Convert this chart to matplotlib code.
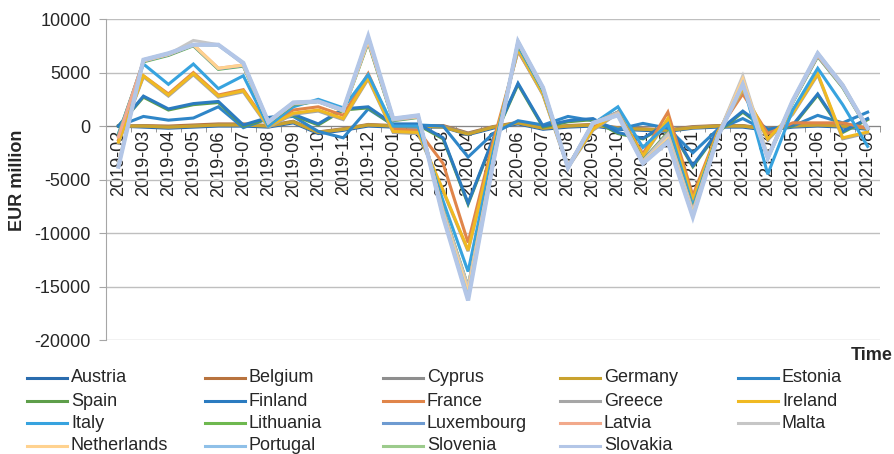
import matplotlib
matplotlib.use("Agg")
import matplotlib.pyplot as plt
from matplotlib.lines import Line2D
from matplotlib.ticker import FixedLocator

plt.rcParams['font.family'] = ['Liberation Sans', 'DejaVu Sans']
plt.rcParams['axes.unicode_minus'] = False

months = ['2019-02', '2019-03', '2019-04', '2019-05', '2019-06', '2019-07', '2019-08',
          '2019-09', '2019-10', '2019-11', '2019-12', '2020-01', '2020-02', '2020-03',
          '2020-04', '2020-05', '2020-06', '2020-07', '2020-08', '2020-09', '2020-10',
          '2020-11', '2020-12', '2021-01', '2021-02', '2021-03', '2021-04', '2021-05',
          '2021-06', '2021-07', '2021-08']

# values (EUR million)
austria = [0, -100, -200, -100, 0, 0, -100, 300, -700, -400, 0, -100, -100, -100, -800, -200,
           200, -300, -100, 0, -300, -400, -500, -200, -100, -100, -400, -100, 0, -100, -300]
belgium = [0, 50, 0, 100, 200, 200, 50, 450, -550, -250, 150, 50, 50, 50, -650, -50,
           350, -150, 50, 150, -150, -250, -350, -50, 50, 50, -250, 50, 150, 50, -150]
cyprus = [0, 0, -100, 0, 100, 100, 0, 400, -600, -300, 100, 0, 0, 0, -700, -100,
          300, -200, 0, 100, -200, -300, -400, -100, 0, 0, -300, 0, 100, 0, -200]
germany = [0, 0, -100, 0, 100, 100, 0, 400, -600, -300, 100, 0, 0, -100, -750, -100,
           300, -200, 0, 100, -200, -300, -400, -150, 0, 0, -300, 0, 100, 0, -200]
estonia = [0, 900, 550, 750, 1800, -150, 700, 900, -500, -1100, 1600, 100, 100, 0, -2900, -700,
           500, 100, 900, 500, -300, 250, -200, -2500, -300, 700, -500, 0, 1000, 300, 1300]
spain = [0, 2700, 1500, 2000, 2200, 0, 700, 1000, 100, 1500, 1700, 100, 100, -1200, -7300, -1300,
         3900, -100, 400, 600, -700, -1200, 200, -3800, -600, 1300, -400, 0, 2900, -600, 600]
finland = [0, 2800, 1600, 2100, 2300, 100, 800, 1100, 200, 1600, 1800, 200, 200, -1100, -7200, -1200,
           4000, 0, 500, 700, -600, -1150, 300, -3700, -500, 1400, -300, 100, 3000, -500, 700]
france = [-1300, 4700, 3000, 5000, 2900, 3400, 100, 1500, 1800, 1000, 4900, -300, -400, -3500, -10900, -1500,
          7000, 3000, -3700, -100, 1300, -2600, 1300, -6500, -500, 3000, -700, 300, 300, 300, -200]
greece = [-1600, 4600, 2800, 4800, 2700, 3200, -100, 1100, 1400, 600, 4400, -600, -700, -6100, -11700, -2100,
          7100, 2900, -3900, -400, 1200, -2900, 600, -7000, -700, 3400, -1300, 1100, 4800, -1200, -650]
ireland = [-1500, 4700, 2900, 4900, 2800, 3300, 0, 1200, 1500, 700, 4500, -500, -600, -6000, -11600, -2000,
           7200, 3000, -3800, -300, 1300, -2800, 700, -6900, -600, 3500, -1200, 1200, 4900, -1100, -550]
italy = [-700, 5800, 3900, 5800, 3500, 4700, 0, 1800, 2500, 1700, 4800, 0, 0, -7000, -13600, -2500,
         7500, 3300, -3800, 200, 1800, -2000, 200, -7500, -800, 4000, -4500, 1500, 5400, 2000, -1900]
lithuania = [-800, 6000, 6600, 7500, 5300, 5600, 300, 2000, 2300, 1400, 7800, 500, 800, -7800, -15000, -3200,
             7700, 3400, -3800, 200, 1300, -3200, -600, -7800, -900, 4300, -3000, 2200, 6500, 3600, -300]
luxembourg = [-900, 6050, 6650, 7550, 5350, 5650, 350, 2050, 2300, 1450, 7900, 550, 850, -7900, -15100, -3250,
              7750, 3450, -3850, 250, 1300, -3250, -700, -7900, -950, 4400, -3000, 2250, 6550, 3650, -250]
latvia = [-1000, 6100, 6700, 7600, 5400, 5700, 350, 2100, 2300, 1450, 7950, 600, 850, -7950, -15100, -3300,
          7800, 3500, -3850, 250, 1250, -3300, -750, -7950, -950, 4500, -2950, 2300, 6600, 3700, -250]
malta = [-3500, 6200, 6700, 8000, 7600, 5800, 300, 2200, 2300, 1500, 8200, 600, 900, -8000, -15100, -3300,
         7900, 3500, -3800, 300, 1200, -3300, -800, -8000, -900, 4700, -2800, 2300, 6800, 3900, -200]
netherlands = [-3600, 6100, 6700, 7600, 5400, 5700, 400, 2100, 2300, 1400, 8000, 700, 900, -8200, -15500, -3400,
               7800, 3500, -3900, 200, 1100, -3400, -1200, -8200, -1000, 4400, -2900, 2300, 6700, 3800, -200]
portugal = [-3700, 6150, 6750, 7600, 7550, 5850, 400, 2150, 2300, 1450, 8300, 700, 950, -8400, -16000, -3450,
            7850, 3550, -3900, 250, 1050, -3450, -1400, -8400, -1000, 3900, -3000, 2350, 6750, 3800, -200]
slovenia = [-3750, 6200, 6800, 7600, 7600, 5900, 400, 2200, 2300, 1500, 8350, 700, 1000, -8450, -16200, -3500,
            7900, 3600, -3900, 300, 1000, -3500, -1450, -8450, -1000, 3900, -3000, 2400, 6800, 3800, -200]
slovakia = [-3800, 6200, 6800, 7600, 7600, 5900, 400, 2200, 2300, 1500, 8400, 700, 1000, -8500, -16300, -3500,
            7900, 3600, -3900, 300, 1000, -3500, -1500, -8500, -1000, 3900, -3000, 2400, 6800, 3800, -200]

countries = ['Austria', 'Belgium', 'Cyprus', 'Germany', 'Estonia', 'Spain', 'Finland', 'France',
             'Greece', 'Ireland', 'Italy', 'Lithuania', 'Luxembourg', 'Latvia', 'Malta',
             'Netherlands', 'Portugal', 'Slovenia', 'Slovakia']
series = [austria, belgium, cyprus, germany, estonia, spain, finland, france, greece, ireland,
          italy, lithuania, luxembourg, latvia, malta, netherlands, portugal, slovenia, slovakia]
colors = ['#2A6CAE', '#B8733E', '#8E8E8E', '#C9A22E', '#2F86C8', '#5E9E4A', '#2B7BC0', '#E0854A',
          '#A6A6A6', '#F0B922', '#37A3DF', '#6EB84F', '#6E9BD1', '#F2A98B', '#C6C6C6',
          '#FFD28F', '#8FC0E8', '#9CCB8C', '#B3C6E7']

fig = plt.figure(figsize=(8.95, 4.54), dpi=100)
ax = fig.add_axes([0.1184, 0.251, 0.865, 0.707])

x = list(range(len(months)))
for name, vals, c in zip(countries, series, colors):
    lw = 3.0 if name == 'Slovakia' else 2.2
    ax.plot(x, vals, color=c, lw=lw, solid_joinstyle='miter', zorder=3)

ax.set_xlim(-0.5, len(months) - 0.5)
ax.set_ylim(-20000, 10000)
ax.set_yticks(range(-20000, 10001, 5000))
ax.yaxis.grid(True, color='#BFBFBF', lw=1.0)
ax.set_axisbelow(True)

for s in ['top', 'right']:
    ax.spines[s].set_visible(False)
ax.spines['left'].set_color('#A6A6A6')
ax.spines['bottom'].set_position(('data', 0))
ax.spines['bottom'].set_color('#868686')
ax.spines['bottom'].set_zorder(2)

ax.set_xticks(x)
ax.set_xticklabels(months, rotation=90, fontsize=13, color='#262626')
ax.xaxis.set_minor_locator(FixedLocator([i + 0.5 for i in x]))
ax.tick_params(axis='x', which='major', length=0, pad=3)
ax.tick_params(axis='x', which='minor', length=4, color='#868686')
ax.tick_params(axis='y', length=5, color='#A6A6A6', labelsize=13, labelcolor='#262626', pad=6)

fig.text(18 / 895, 1 - 180 / 454, 'EUR million', rotation=90, fontsize=13, fontweight='bold',
         ha='center', va='center', color='#262626')
fig.text(893 / 895, 1 - 355 / 454, 'Time', fontsize=13, fontweight='bold',
         ha='right', va='center', color='#262626')

# legend laid out like the original: 5 columns filled row by row
col_x = [27, 205, 383, 560, 738]
row_y = [378, 401, 423, 446]
for k, (name, c) in enumerate(zip(countries, colors)):
    r, col = divmod(k, 5)
    x0 = col_x[col] / 895
    y0 = 1 - row_y[r] / 454
    fig.add_artist(Line2D([x0, x0 + 40 / 895], [y0, y0], color=c, lw=2.2,
                          transform=fig.transFigure))
    fig.text(x0 + 44 / 895, y0, name, fontsize=13, va='center', ha='left', color='#262626')

fig.savefig('out.png', dpi=100)
